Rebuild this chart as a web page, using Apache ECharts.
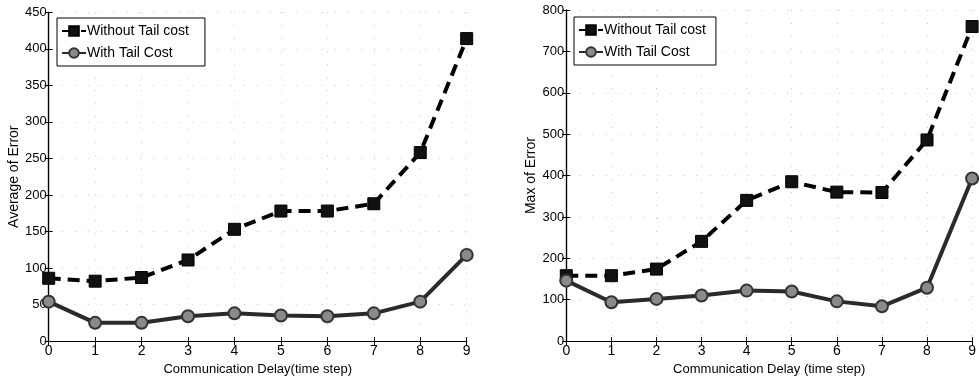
<!DOCTYPE html>
<html><head><meta charset="utf-8">
<script src="https://cdn.jsdelivr.net/npm/echarts@6/dist/echarts.min.js"></script>
<style>html,body{margin:0;padding:0;background:#fff}#c{width:979px;height:381px}</style>
</head><body><div id="c"></div>
<script>
const delays = [0,1,2,3,4,5,6,7,8,9];
const avgWithout = [86,82,87,111,153,178,178,188,258,414];
const avgWith = [54,25,25,34,38,35,34,38,54,118];
const maxWithout = [158,158,174,241,340,385,360,359,486,760];
const maxWith = [146,94,102,110,122,120,96,84,129,393];
const avgTicks = [0,450,50];
const maxTicks = [0,800,100];
const nameWithout = 'Without Tail cost';
const nameWith = 'With Tail Cost';

const pairs = (ys) => delays.map((x,i)=>[x, ys[i]]);
const F = 'Liberation Sans, Arial, sans-serif';
const chart = echarts.init(document.getElementById('c'));

function axesFor(gi, ymin, ymax, yint, yname, xname){
  const axLine = {show:true, lineStyle:{color:'#000', width:1.2}};
  const split = {show:true, lineStyle:{color:'#c8c8c8', width:1, type:[1,12]}};
  return {
    x:[
      {type:'value', gridIndex:gi, min:0, max:9, interval:1, name:xname, nameLocation:'middle', nameGap:20,
       nameTextStyle:{fontFamily:F, fontSize:13, color:'#000'},
       axisLine:axLine, axisTick:{inside:true, length:4, lineStyle:{color:'#000'}},
       axisLabel:{fontFamily:F, fontSize:14, color:'#000', margin:3}, splitLine:split},
      {type:'value', gridIndex:gi, position:'top', min:0, max:9, interval:1,
       axisLine:axLine, axisTick:{inside:true, length:4, lineStyle:{color:'#000'}}, axisLabel:{show:false}, splitLine:{show:false}}
    ],
    y:[
      {type:'value', gridIndex:gi, min:ymin, max:ymax, interval:yint, name:yname, nameLocation:'middle', nameGap:28,
       nameTextStyle:{fontFamily:F, fontSize:14, color:'#000'},
       axisLine:axLine, axisTick:{inside:true, length:4, lineStyle:{color:'#000'}},
       axisLabel:{fontFamily:F, fontSize:13, color:'#000', margin:2}, splitLine:split},
      {type:'value', gridIndex:gi, position:'right', min:ymin, max:ymax, interval:yint,
       axisLine:axLine, axisTick:{inside:true, length:4, lineStyle:{color:'#000'}}, axisLabel:{show:false}, splitLine:{show:false}}
    ]
  };
}
const a0 = axesFor(0, avgTicks[0], avgTicks[1], avgTicks[2], 'Average of Error', 'Communication Delay(time step)');
const a1 = axesFor(1, maxTicks[0], maxTicks[1], maxTicks[2], 'Max of Error', 'Communication Delay (time step)');

function seriesPair(xi, yi, wo, wi){
  return [
    {name:nameWithout, type:'line', xAxisIndex:xi, yAxisIndex:yi, data:pairs(wo),
     symbol:'rect', symbolSize:12, itemStyle:{color:'#111', borderColor:'#000', borderWidth:1},
     lineStyle:{color:'#000', width:4, type:[12,7]}, animation:false, z:3},
    {name:nameWith, type:'line', xAxisIndex:xi, yAxisIndex:yi, data:pairs(wi),
     symbol:'circle', symbolSize:12, itemStyle:{color:'#8a8a8a', borderColor:'#333', borderWidth:2},
     lineStyle:{color:'#2a2a2a', width:4}, animation:false, z:4}
  ];
}

const legendCommon = {orient:'vertical', backgroundColor:'#fff', borderColor:'#000', borderWidth:1,
  padding:[6,16,6,4], itemGap:8, itemWidth:24, itemHeight:12,
  textStyle:{fontFamily:F, fontSize:14, color:'#000', padding:[0,0,0,-4]}, data:[nameWithout, nameWith], selectedMode:false};

chart.setOption({
  animation:false,
  grid:[
    {left:48.7, top:12.3, width:418, height:331},
    {left:566.3, top:10, width:412, height:332.3}
  ],
  xAxis:[...a0.x, ...a1.x],
  yAxis:[...a0.y, ...a1.y],
  legend:[
    Object.assign({}, legendCommon, {left:57, top:18}),
    Object.assign({}, legendCommon, {left:574, top:17, padding:[6,10,6,4]})
  ],
  series:[...seriesPair(0,0,avgWithout,avgWith), ...seriesPair(2,2,maxWithout,maxWith)]
});
</script></body></html>
